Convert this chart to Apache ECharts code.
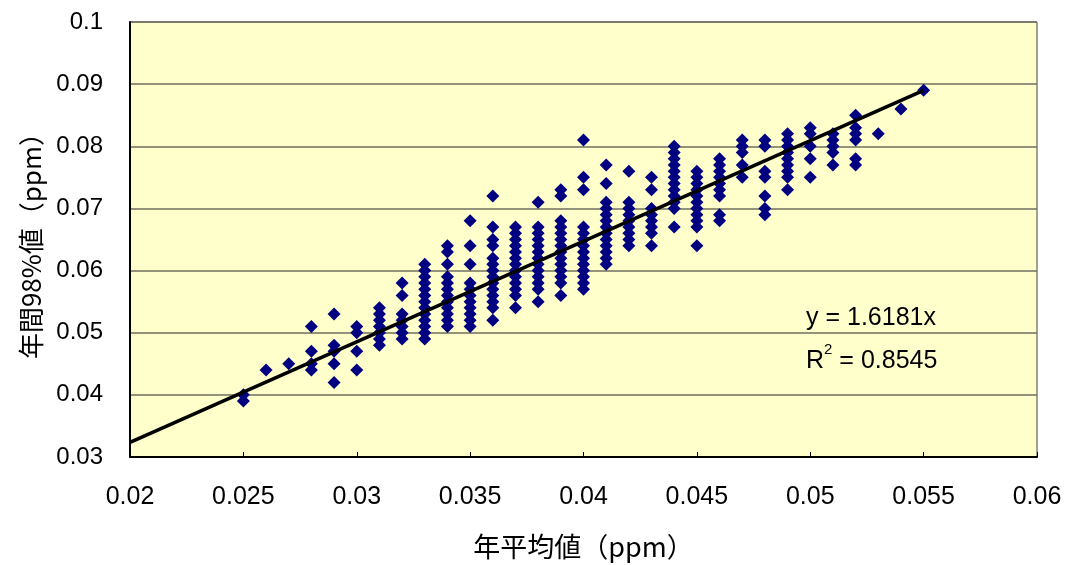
<!DOCTYPE html>
<html>
<head>
<meta charset="utf-8">
<script src="https://cdn.jsdelivr.net/npm/echarts@6/dist/echarts.min.js"></script>
<style>
  html, body { margin: 0; padding: 0; background: #fff; }
  #chart { width: 1068px; height: 565px; }
</style>
</head>
<body>
<div id="chart"></div>
<script>
// 年平均値 (x) ごとの年間98%値 (y)
var xValues = [0.025, 0.026, 0.027, 0.028, 0.029, 0.030, 0.031, 0.032, 0.033, 0.034,
               0.035, 0.036, 0.037, 0.038, 0.039, 0.040, 0.041, 0.042, 0.043, 0.044,
               0.045, 0.046, 0.047, 0.048, 0.049, 0.050, 0.051, 0.052, 0.053, 0.054, 0.055];
var yColumns = [
  [0.040, 0.039],
  [0.044],
  [0.045],
  [0.051, 0.047, 0.045, 0.044],
  [0.053, 0.048, 0.047, 0.045, 0.042],
  [0.051, 0.050, 0.047, 0.044],
  [0.054, 0.053, 0.052, 0.051, 0.050, 0.049, 0.048],
  [0.058, 0.056, 0.053, 0.052, 0.051, 0.050, 0.049],
  [0.061, 0.060, 0.059, 0.058, 0.057, 0.056, 0.055, 0.054, 0.053, 0.052, 0.051, 0.050, 0.049],
  [0.064, 0.063, 0.061, 0.059, 0.058, 0.057, 0.056, 0.055, 0.054, 0.053, 0.052, 0.051],
  [0.068, 0.064, 0.061, 0.058, 0.057, 0.056, 0.055, 0.054, 0.053, 0.052, 0.051],
  [0.072, 0.067, 0.065, 0.064, 0.062, 0.061, 0.060, 0.059, 0.058, 0.057, 0.056, 0.055, 0.054, 0.052],
  [0.067, 0.066, 0.065, 0.064, 0.063, 0.062, 0.061, 0.060, 0.059, 0.058, 0.057, 0.056, 0.054],
  [0.071, 0.067, 0.066, 0.065, 0.064, 0.063, 0.062, 0.061, 0.060, 0.059, 0.058, 0.057, 0.055],
  [0.073, 0.072, 0.068, 0.067, 0.066, 0.065, 0.064, 0.063, 0.062, 0.061, 0.060, 0.059, 0.058, 0.056],
  [0.081, 0.075, 0.073, 0.067, 0.066, 0.065, 0.064, 0.063, 0.062, 0.061, 0.060, 0.059, 0.058, 0.057],
  [0.077, 0.074, 0.071, 0.070, 0.069, 0.068, 0.067, 0.066, 0.065, 0.064, 0.063, 0.062, 0.061],
  [0.076, 0.071, 0.070, 0.069, 0.068, 0.067, 0.066, 0.065, 0.064],
  [0.075, 0.073, 0.070, 0.069, 0.068, 0.067, 0.066, 0.064],
  [0.080, 0.079, 0.078, 0.077, 0.076, 0.075, 0.074, 0.073, 0.072, 0.071, 0.070, 0.067],
  [0.076, 0.075, 0.074, 0.073, 0.072, 0.071, 0.070, 0.069, 0.068, 0.067, 0.064],
  [0.078, 0.077, 0.076, 0.075, 0.074, 0.073, 0.072, 0.069, 0.068],
  [0.081, 0.080, 0.079, 0.077, 0.075],
  [0.081, 0.080, 0.076, 0.075, 0.072, 0.070, 0.069],
  [0.082, 0.081, 0.080, 0.079, 0.078, 0.077, 0.076, 0.075, 0.073],
  [0.083, 0.082, 0.080, 0.078, 0.075],
  [0.082, 0.081, 0.080, 0.079, 0.077],
  [0.085, 0.083, 0.082, 0.081, 0.078, 0.077],
  [0.082],
  [0.086],
  [0.089]
];
// 近似直線 y = 1.6181x
var slope = 1.6181;
var rSquared = 0.8545;
var trendRange = [0.02, 0.055];

var points = [];
xValues.forEach(function (x, i) {
  yColumns[i].forEach(function (y) { points.push([x, y]); });
});
var trend = trendRange.map(function (x) { return [x, x * slope]; });

var jpFont = '"Noto Sans CJK JP", sans-serif';
var numFont = '"Liberation Sans", Arial, sans-serif';

var option = {
  animation: false,
  backgroundColor: '#ffffff',
  grid: {
    left: 130, right: 31, top: 22, bottom: 107,
    show: true,
    backgroundColor: '#FFFFCC',
    borderColor: '#404040',
    borderWidth: 1
  },
  xAxis: {
    type: 'value',
    min: 0.02, max: 0.06, interval: 0.005,
    name: '年平均値（ppm）',
    nameLocation: 'middle',
    nameGap: 76,
    nameTextStyle: { fontFamily: jpFont, fontSize: 27, color: '#000' },
    axisLine: { show: true, lineStyle: { color: '#000', width: 2 } },
    axisTick: { show: true, inside: true, length: 5, lineStyle: { color: '#000' } },
    axisLabel: {
      margin: 28,
      fontFamily: '"Liberation Sans Narrow", ' + numFont,
      fontSize: 25, color: '#000',
      formatter: function (v) { return String(+v.toFixed(3)); }
    },
    splitLine: { show: false }
  },
  yAxis: {
    type: 'value',
    min: 0.03, max: 0.1, interval: 0.01,
    name: '年間98%値（ppm）',
    nameLocation: 'middle',
    nameGap: 86,
    nameRotate: 90,
    nameTextStyle: { fontFamily: jpFont, fontSize: 26, color: '#000' },
    axisLine: { show: true, lineStyle: { color: '#000', width: 2 } },
    axisTick: { show: false },
    axisLabel: {
      margin: 27,
      fontFamily: numFont,
      fontSize: 24, color: '#000',
      formatter: function (v) { return String(+v.toFixed(3)); }
    },
    splitLine: { show: true, lineStyle: { color: '#6f6f60', width: 1.5 } }
  },
  series: [
    {
      type: 'scatter',
      data: points,
      symbol: 'diamond',
      symbolSize: [13, 13],
      itemStyle: { color: '#000080', opacity: 1 },
      z: 2
    },
    {
      type: 'line',
      data: trend,
      symbol: 'none',
      lineStyle: { color: '#000', width: 3.5 },
      z: 3
    }
  ],
  graphic: [
    {
      type: 'text', left: 806, top: 306,
      style: { text: 'y = ' + slope + 'x', font: '25px ' + numFont, fill: '#000' }
    },
    {
      type: 'text', left: 806, top: 342,
      style: {
        text: '{a|R}{s|2}{a| = ' + rSquared + '}',
        rich: {
          a: { fontSize: 25, fontFamily: numFont, color: '#000', verticalAlign: 'bottom', lineHeight: 32 },
          s: { fontSize: 15, fontFamily: numFont, color: '#000', verticalAlign: 'top', lineHeight: 32 }
        }
      }
    }
  ]
};

var chart = echarts.init(document.getElementById('chart'));
chart.setOption(option);
</script>
</body>
</html>
